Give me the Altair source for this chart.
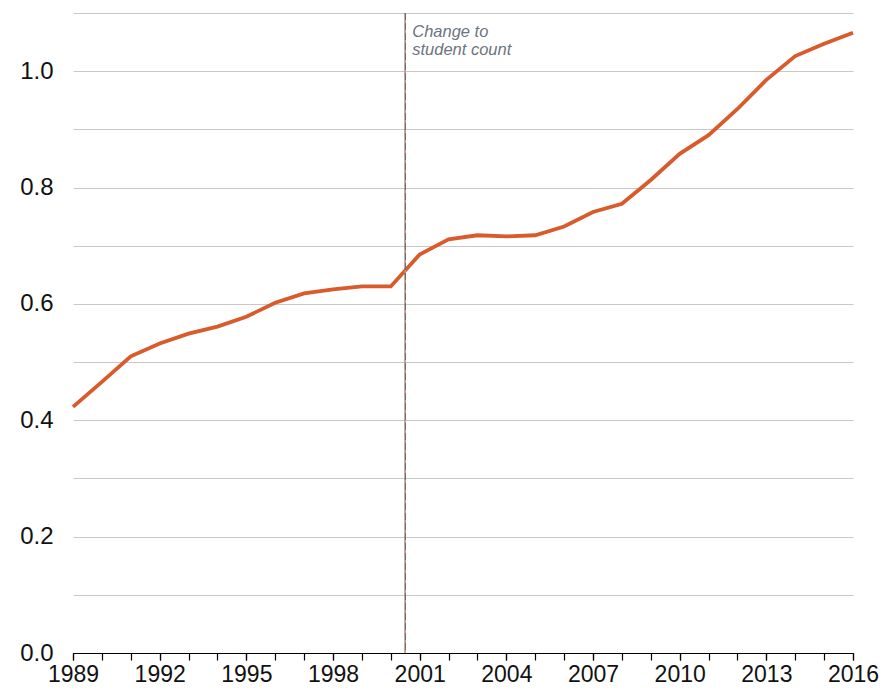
import altair as alt
import pandas as pd

years = list(range(1989, 2017))
values = [0.423, 0.466, 0.510, 0.532, 0.549, 0.561, 0.578, 0.602, 0.618, 0.625,
          0.630, 0.630, 0.685, 0.711, 0.718, 0.716, 0.718, 0.733, 0.758, 0.772,
          0.813, 0.858, 0.890, 0.935, 0.985, 1.026, 1.047, 1.066]
label_years = [1989, 1992, 1995, 1998, 2001, 2004, 2007, 2010, 2013, 2016]
y_grid = [0.0, 0.1, 0.2, 0.3, 0.4, 0.5, 0.6, 0.7, 0.8, 0.9, 1.0, 1.1]
change_year = [2000.5]
annotation = ["Change to\nstudent count"]

df = pd.DataFrame({"year": years, "value": values})
vline = pd.DataFrame({"x": change_year, "y": [0.0], "y2": [1.1]})
note = pd.DataFrame({"x": change_year, "y": [1.1], "label": annotation})

xscale = alt.Scale(domain=[1989, 2016], nice=False, zero=False)
yscale = alt.Scale(domain=[0, 1.1], nice=False)

FONT = "Liberation Sans"

line = alt.Chart(df).mark_line(color="#d95a2b", strokeWidth=3.8).encode(
    x=alt.X("year:Q", scale=xscale, title=None,
            axis=alt.Axis(values=label_years, orient="bottom", grid=False,
                          domainColor="#000", domainWidth=1.2,
                          tickColor="#000", tickSize=7, tickWidth=1.2,
                          format="d", labelFontSize=23, labelColor="#111",
                          labelPadding=3, labelFont=FONT, labelOverlap=False,
                          labelFlush=False)),
    y=alt.Y("value:Q", scale=yscale, title=None,
            axis=alt.Axis(values=y_grid,
                          labelExpr="round(datum.value*10) % 2 == 0 && datum.value < 1.05 ? format(datum.value, '.1f') : ''",
                          domain=False, ticks=False, gridColor="#c8c8c8", gridWidth=1.2,
                          labelFontSize=24, labelColor="#111", labelPadding=20,
                          labelFont=FONT, labelOverlap=False)),
)

rule_base = alt.Chart(vline).mark_rule(color="#706868", strokeWidth=1.5).encode(
    x=alt.X("x:Q", scale=xscale, title=None,
            axis=alt.Axis(values=years, orient="bottom", grid=False, labels=False,
                          domainColor="#000", domainWidth=1.2,
                          tickColor="#000", tickSize=7, tickWidth=1.2)),
    y=alt.Y("y:Q", scale=yscale), y2="y2:Q")
rule_dash = alt.Chart(vline).mark_rule(color="#f0a080", strokeWidth=1.2, strokeDash=[3, 7]).encode(
    x=alt.X("x:Q", scale=xscale, axis=None), y=alt.Y("y:Q", scale=yscale), y2="y2:Q")

text = alt.Chart(note).mark_text(align="left", baseline="top", dx=7, dy=11,
                                 fontStyle="italic", fontSize=16.5, color="#6b7480",
                                 font=FONT, lineBreak="\n", lineHeight=18).encode(
    x=alt.X("x:Q", scale=xscale, axis=None), y=alt.Y("y:Q", scale=yscale), text="label:N")

chart = alt.layer(line, rule_base, rule_dash, text).resolve_axis(x="independent").properties(
    width=780, height=640,
    autosize=alt.AutoSizeParams(type="none"),
    padding={"left": 65, "top": 5, "right": 26, "bottom": 33},
).configure_view(stroke=None)

chart.save("out.html", embed_options={"renderer": "svg", "actions": False})
